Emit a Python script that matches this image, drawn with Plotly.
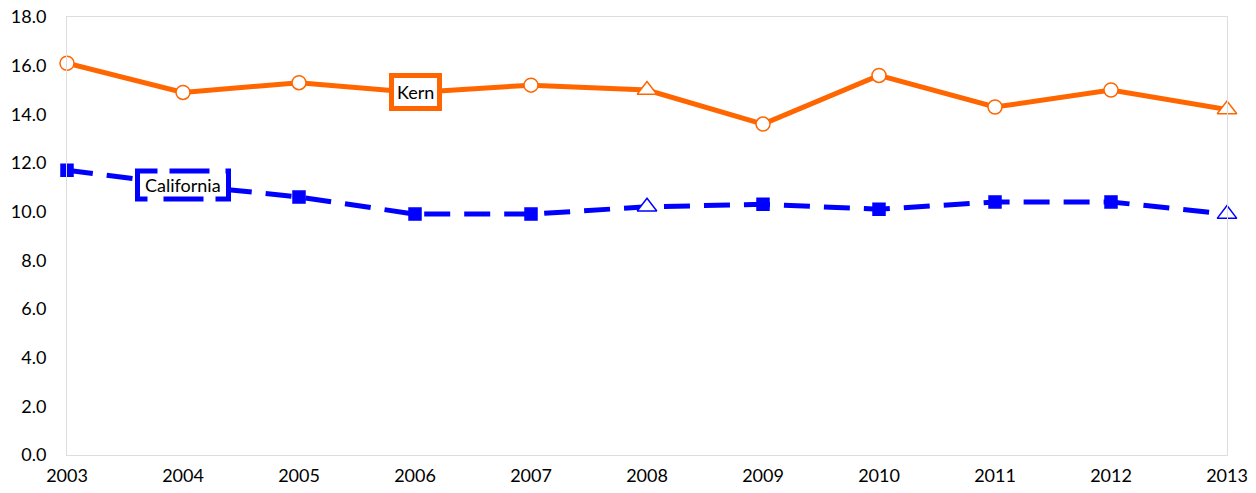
import plotly.graph_objects as go

years = [2003, 2004, 2005, 2006, 2007, 2008, 2009, 2010, 2011, 2012, 2013]
kern = [16.1, 14.9, 15.3, 14.9, 15.2, 15.0, 13.6, 15.6, 14.3, 15.0, 14.2]
california = [11.7, 11.1, 10.6, 9.9, 9.9, 10.2, 10.3, 10.1, 10.4, 10.4, 9.9]
y_ticks = [0, 2, 4, 6, 8, 10, 12, 14, 16, 18]
y_tick_labels = ["0.0", "2.0", "4.0", "6.0", "8.0", "10.0", "12.0", "14.0", "16.0", "18.0"]

ORANGE = "#FF6600"
BLUE = "#0000FF"
FONT = "Lato"

kern_symbols = ["circle"] * 11
kern_symbols[5] = "triangle-up"
kern_symbols[10] = "triangle-up"
kern_sizes = [14] * 11
kern_sizes[5] = 17
kern_sizes[10] = 17

cal_symbols = ["square"] * 11
cal_symbols[5] = "triangle-up"
cal_symbols[10] = "triangle-up"
cal_colors = [BLUE] * 11
cal_colors[5] = "white"
cal_colors[10] = "white"
cal_sizes = [12] * 11
cal_sizes[5] = 17
cal_sizes[10] = 17

fig = go.Figure()
fig.add_trace(go.Scatter(
    x=years, y=kern, mode="lines+markers", name="Kern",
    line=dict(color=ORANGE, width=5),
    marker=dict(symbol=kern_symbols, size=kern_sizes, color="white", opacity=1,
                line=dict(color=ORANGE, width=1.5)),
    cliponaxis=False,
))
fig.add_trace(go.Scatter(
    x=years, y=california, mode="lines+markers", name="California",
    line=dict(color=BLUE, width=5, dash="26px,14px"),
    marker=dict(symbol=cal_symbols, size=cal_sizes, color=cal_colors, opacity=1,
                line=dict(color=BLUE, width=1.5)),
    cliponaxis=False,
))

# Kern label
fig.add_annotation(x=years[3], y=kern[3], text="Kern", showarrow=False,
                   font=dict(family=FONT, size=18, color="black"),
                   bgcolor="white", bordercolor=ORANGE, borderwidth=5, borderpad=3)

# California label with dashed border
fig.add_shape(type="rect", xref="x", yref="y",
              xsizemode="pixel", ysizemode="pixel",
              xanchor=years[1], yanchor=california[1],
              x0=-45.5, x1=45.5, y0=-14, y1=14,
              line=dict(color=BLUE, width=5,
                        dash="10px,16px,40px,12px,44px,16px,40px,12px,48px"),
              fillcolor="white", layer="above")
fig.add_annotation(x=years[1], y=california[1], text="California", showarrow=False,
                   font=dict(family=FONT, size=18, color="black"))

fig.update_layout(
    template="none",
    width=1256, height=493,
    margin=dict(l=67, r=29, t=17, b=38, pad=0),
    plot_bgcolor="white", paper_bgcolor="white",
    showlegend=False,
    font=dict(family=FONT, size=18, color="black"),
)
fig.update_xaxes(
    range=[2003, 2013], tickvals=years, ticktext=[str(y) for y in years],
    showgrid=False, zeroline=False, showline=True, mirror=True, automargin=False,
    linecolor="#dddddd", linewidth=1, ticks="", tickfont=dict(size=18, family=FONT),
    ticklabelstandoff=4,
)
fig.update_yaxes(
    range=[0, 18], tickvals=y_ticks, ticktext=y_tick_labels,
    showgrid=False, zeroline=False, showline=True, mirror=True, automargin=False,
    linecolor="#dddddd", linewidth=1, ticks="", tickfont=dict(size=18, family=FONT),
    ticklabelstandoff=16,
)

fig.write_html("out.html", config={"displayModeBar": False},
               post_script="document.body.style.margin='0';")
